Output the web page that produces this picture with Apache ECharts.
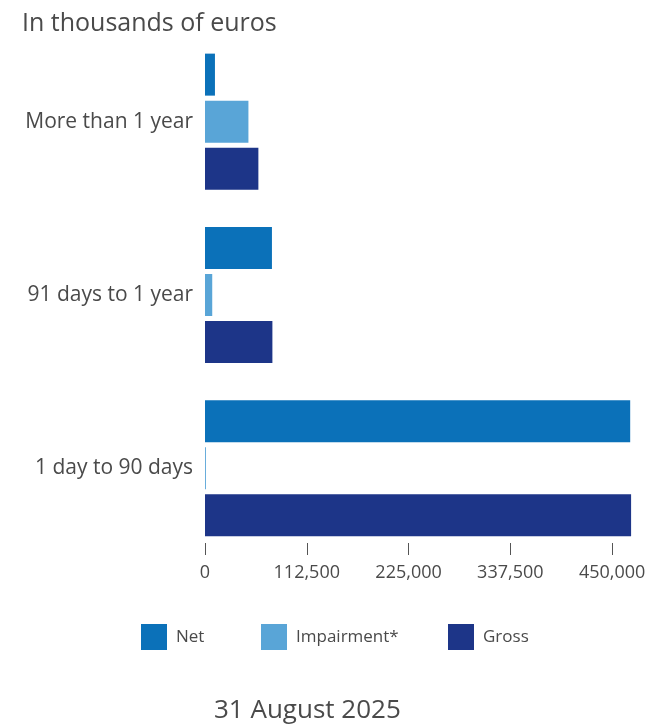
<!DOCTYPE html>
<html>
<head>
<meta charset="utf-8">
<script src="https://cdn.jsdelivr.net/npm/echarts@6/dist/echarts.min.js"></script>
<style>
html,body{margin:0;padding:0;background:#fff;}
#c{width:649px;height:724px;}
</style>
</head>
<body>
<div id="c"></div>
<script>
var categories = ['1 day to 90 days', '91 days to 1 year', 'More than 1 year'];
var netValues = [470000, 74000, 11000];
var impairmentValues = [1000, 8000, 48000];
var grossValues = [471000, 74500, 59000];
var tickValues = [0, 112500, 225000, 337500, 450000];
var seriesNames = ['Net', 'Impairment*', 'Gross'];
var titleText = 'In thousands of euros';
var footerText = '31 August 2025';

var colors = { 'Net': '#0B71B9', 'Impairment*': '#59A5D7', 'Gross': '#1D3588' };
var font = 'Open Sans';
var textColor = '#4a4a4a';

var chart = echarts.init(document.getElementById('c'), null, { renderer: 'canvas' });

function legendAt(name, left) {
  return {
    data: [name], left: left, top: 624, padding: 0, itemWidth: 26, itemHeight: 26, itemGap: 0,
    icon: 'rect', selectedMode: false,
    textStyle: { fontFamily: font, fontSize: 17, color: textColor, padding: [0, 0, 0, 4] }
  };
}

chart.setOption({
  animation: false,
  backgroundColor: '#fff',
  title: [
    { text: titleText, left: 17, top: 6, textStyle: { fontFamily: font, fontSize: 25, fontWeight: 'normal', color: textColor } },
    { text: footerText, left: 209, top: 693, textStyle: { fontFamily: font, fontSize: 26, fontWeight: 'normal', color: textColor } }
  ],
  legend: [legendAt(seriesNames[0], 141), legendAt(seriesNames[1], 261), legendAt(seriesNames[2], 448)],
  grid: { left: 205, top: 35, height: 520, right: 17, containLabel: false },
  xAxis: {
    type: 'value', min: 0, max: 472000,
    axisLine: { show: false },
    splitLine: { show: false },
    axisTick: { show: true, inside: true, length: 12, customValues: tickValues, lineStyle: { color: '#555', width: 1 } },
    axisLabel: {
      customValues: tickValues, margin: 9,
      fontFamily: font, fontSize: 18, color: textColor,
      formatter: function (v) { return v.toLocaleString('en-US'); }
    }
  },
  yAxis: {
    type: 'category', data: categories,
    axisLine: { show: false }, axisTick: { show: false },
    axisLabel: { fontFamily: font, fontSize: 21, color: textColor, margin: 12 }
  },
  series: [
    { name: 'Net', type: 'bar', data: netValues, barWidth: 42, barGap: '12%', itemStyle: { color: colors['Net'] } },
    { name: 'Impairment*', type: 'bar', data: impairmentValues, barWidth: 42, barGap: '12%', itemStyle: { color: colors['Impairment*'] } },
    { name: 'Gross', type: 'bar', data: grossValues, barWidth: 42, barGap: '12%', itemStyle: { color: colors['Gross'] } }
  ]
});
</script>
</body>
</html>
